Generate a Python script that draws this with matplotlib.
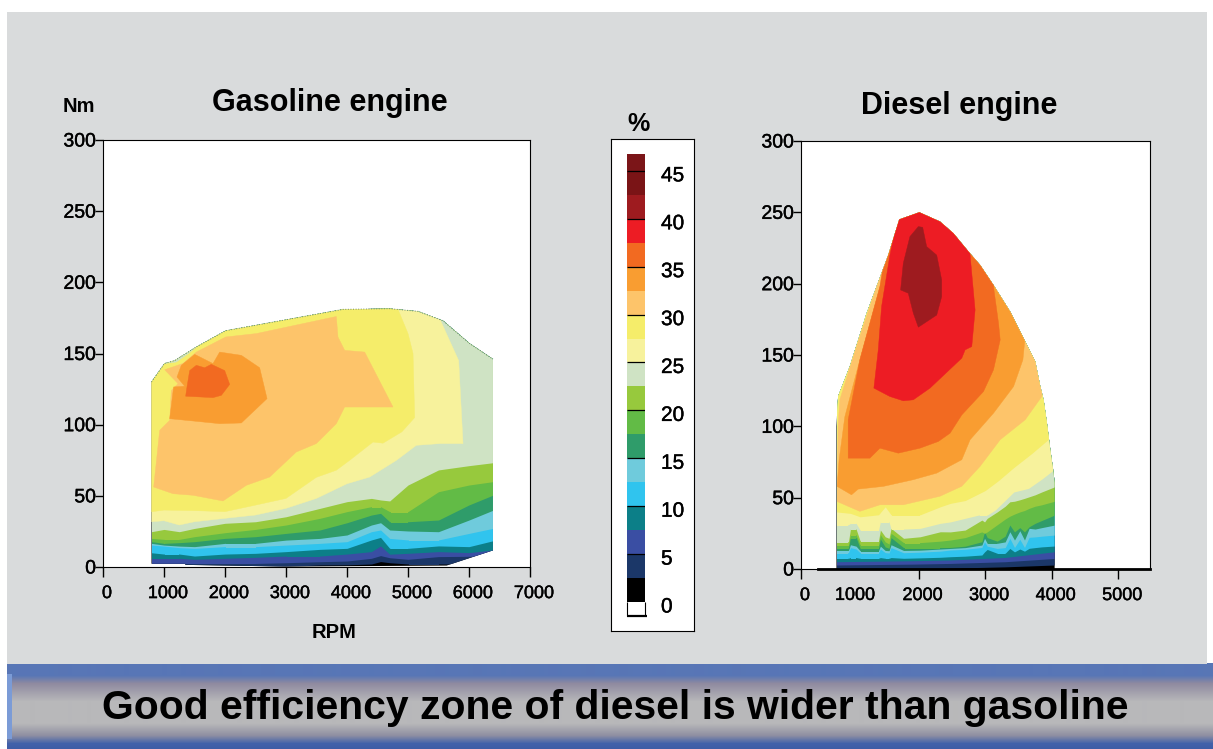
from matplotlib import pyplot as plt
from matplotlib.patches import Polygon, Rectangle
from matplotlib.transforms import ScaledTranslation
from matplotlib import patheffects
import numpy as np

plt.rcParams['font.family'] = ['Liberation Sans', 'DejaVu Sans']

W, H = 1213, 749

# Colour of each 2.5 % band, bottom to top
band_colors = ['#000000', '#1b3768', '#3a4ea3', '#0c7f88', '#30c4ee', '#6fcbdc',
               '#2f9c6a', '#62bb46', '#97c93d', '#cfe3c4', '#f7f29c', '#f5ed6a',
               '#fdc46a', '#f99d31', '#f26a21', '#ed1c24', '#9e1b1f', '#7a1416', '#7b1518']
band_edges = [0, 2.5, 5, 7.5, 10, 12.5, 15, 17.5, 20, 22.5, 25, 27.5, 30, 32.5, 35,
              37.5, 40, 42.5, 45, 46.76]
legend_ticks = [0, 5, 10, 15, 20, 25, 30, 35, 40, 45]

# Gasoline engine, outline of the map (rpm, Nm)
gas_outline = [(795, 2.3), (795, 130), (1010, 143), (1175, 145), (1530, 154.6), (2010, 166),
               (3934, 181), (4700, 181.5), (5164, 179.6), (5574, 173), (6010, 157), (6393, 146),
               (6393, 11.7), (5633, 1), (3000, 0.3), (1350, 1.5), (1350, 2.3)]

# Gasoline engine, lower contours on shared rpm columns
gas_rpm = [795, 1000, 1250, 1500, 2000, 2500, 3000, 3557, 4000, 4400, 4550, 4700, 5000, 5500, 6000, 6400]
gas_black_top = [0, 0, 0, 0, 0, 0, 0.5, 1.4, 1.5, 2.1, 3.8, 3, 2.1, 2.1, 2, 2]
gas_navy_top = [2.5, 2.5, 2.5, 2.5, 2.5, 2.5, 3, 3.7, 4.2, 6.1, 8, 6.5, 5.4, 7.3, 7.5, 8]
gas_blue_top = [6.1, 6.1, 6.1, 5.4, 6.1, 6.8, 7.7, 7.7, 9.1, 10.8, 14.8, 9, 9.6, 10.8, 10.1, 12]
gas_teal_top = [10, 9.1, 9.1, 7.7, 9.1, 9.6, 10.8, 12.4, 13.1, 19, 20.8, 13.1, 13.1, 14.8, 14.3, 18.5]
gas_cyan_top = [15.4, 14.7, 13.6, 13.1, 14.3, 14.3, 15.4, 16.6, 17.8, 24.8, 26, 20.1, 19, 19, 23.6, 27.2]
gas_ltblue_top = [16.6, 15.4, 14.7, 14.3, 16.6, 16.6, 18.9, 20.1, 22.5, 29.5, 31.1, 26, 25.3, 24.8, 33, 40]
gas_dkgreen_top = [17.8, 16.6, 17.1, 17.8, 20.1, 21.3, 23.6, 26, 31.1, 36.5, 37.7, 31.8, 31.8, 33, 43.6, 50.6]
gas_green_top = [20.1, 19.4, 19.4, 21.3, 24.1, 26.4, 29.5, 34.2, 38.9, 42.4, 42.4, 38.9, 38.9, 52.9, 57.6, 60]
gas_olive_top = [24.8, 26.4, 24.8, 27.1, 30.7, 31.8, 35.3, 41.2, 45.9, 48.2, 47.1, 46.4, 57.6, 68.2, 71.2, 73.3]

# Gasoline engine, upper regions
gas_paleyellow = [(795, 31.8), (1000, 32.5), (1250, 29.5), (1500, 31.8), (2000, 34.2), (2500, 36.5),
                  (3000, 41.2), (3500, 48.2), (4000, 58.5), (4372, 63.2), (4809, 74.9), (5137, 85.5),
                  (5519, 86.7), (5902, 86.7), (5831, 145), (5519, 174.5), (5300, 300), (500, 300), (500, 31.8)]
gas_yellow = [(795, 38.8), (1000, 40), (1500, 39.6), (2000, 38.9), (2500, 43.5), (3000, 48.2),
              (3497, 63), (3825, 68), (4044, 75), (4426, 87.8), (4590, 87), (4900, 95), (5109, 105),
              (5082, 150), (5000, 164), (4836, 181), (4800, 300), (500, 300), (500, 38.8)]
gas_ltorange = [(831, 56.2), (1148, 51.5), (1475, 50.4), (1967, 46.4), (2350, 57.4), (2732, 63.2),
                (3169, 80.8), (3497, 86.7), (3825, 100.7), (3962, 112.4), (4754, 112.4), (4290, 151),
                (3962, 152.2), (3852, 161.6), (3825, 176), (2514, 164), (2011, 161.6), (1530, 151),
                (1311, 143), (1011, 138.6), (1230, 128.8), (1120, 124), (1093, 103), (929, 96)]
gas_corner = [(1010, 143), (1175, 145), (1530, 154.6), (1400, 150), (1200, 144)]
gas_orange = [(1093, 104.2), (1158, 126.5), (1339, 127), (1213, 133.5), (1284, 141.7), (1503, 149.4),
              (1803, 142.9), (1913, 151), (2268, 148.7), (2568, 140), (2689, 118.3), (2268, 101.2),
              (1913, 100.7), (1475, 102.6)]
gas_dkorange = [(1355, 120), (1377, 126.5), (1421, 138), (1530, 141.7), (1667, 140), (1776, 142.4),
                (1995, 138), (2077, 128.3), (1940, 120.6), (1803, 119)]

# Diesel engine, outline of the map
diesel_outline = [(765, 0), (765, 100), (790, 121), (966, 142), (1217, 179), (1543, 220), (1709, 245),
                  (2010, 250), (2321, 243.5), (2522, 235.3), (2748, 222.5), (2924, 213), (3124, 199),
                  (3375, 180.4), (3601, 159.4), (3752, 145.4), (3827, 128), (3877, 118.6), (3928, 102),
                  (3978, 83.6), (4028, 67), (4043, 60.2), (4043, 0)]

# Diesel engine, lower contours
diesel_base_rpm = [765, 1900, 2476, 3300, 4043]
diesel_black_top = [-1, -0.5, 0.6, 1.5, 2.8]
diesel_navy_top = [2.8, 3.4, 3.9, 5.1, 7.4]
diesel_blue_top = [5.1, 5.8, 6.3, 8.1, 12.1]
diesel_rpm = [765, 945, 975, 1060, 1120, 1397, 1425, 1497, 1555, 1585, 1773, 2024, 2325, 2476, 2700,
              2950, 2990, 3030, 3180, 3300, 3370, 3440, 3520, 3590, 3660, 3750, 3850, 4043]
diesel_teal_top = [7.5, 7.5, 8, 8, 7.5, 7.5, 8, 7.5, 7.5, 8, 7.5, 7.8, 8.2, 8.6, 9,
                   9.8, 12, 13.7, 11, 11, 14.4, 12, 14, 12.5, 14.5, 15, 15.5, 16.1]
diesel_cyan_top = [11.4, 11.4, 15, 14, 11.4, 11.4, 14, 11.5, 11.2, 15, 11.4, 11.8, 12.5, 13.3, 13.8,
                   15.1, 19.1, 16, 14.4, 15, 21.5, 15.1, 20.8, 15.1, 22.2, 22.5, 23, 23.8]
diesel_ltblue_top = [13, 13, 17, 16, 12.8, 12.8, 16, 13, 12.8, 17, 13, 13.2, 14, 14.4, 15,
                     16.8, 21.5, 18, 18, 19, 26.1, 20.3, 26.8, 20.3, 28.5, 28, 29, 30.8]
diesel_dkgreen_top = [14.5, 14.5, 22, 22, 14.5, 14.5, 21, 15.5, 14.5, 22, 15, 15, 15, 15.1, 16,
                      19.1, 26.1, 22, 19.5, 23, 30.8, 26, 29, 26, 29.6, 32, 34, 37.8]
diesel_green_top = [16.5, 16.5, 24, 24, 17, 17, 24, 19, 17.5, 25, 18.5, 18.5, 19.5, 20.3, 22,
                    26, 25, 26, 31, 35, 37, 38.5, 40, 41, 42.5, 44, 45, 47.5]
diesel_olive_top = [19.1, 19.1, 28, 28, 19.8, 19.8, 27.3, 22.6, 21.5, 28.5, 21.5, 22.6, 26.1, 26, 27.3,
                    34.3, 33, 35.5, 40, 44, 47.1, 47.5, 48.5, 49.5, 50.6, 52, 54, 57.6]
diesel_palegreen_rpm = [765, 945, 975, 1060, 1120, 1397, 1425, 1497, 1555, 1585, 1773, 2024, 2325, 2476,
                        2900, 3030, 3150, 3430, 3650, 3850, 4043]
diesel_palegreen_top = [31, 31, 32, 32, 27.3, 27.3, 33, 33, 33, 28, 28, 28.5, 32, 33,
                        37.8, 37.8, 41.3, 54, 56.5, 63, 70]
diesel_paleyellow_rpm = [765, 975, 1120, 1397, 1497, 1585, 1773, 2024, 2325, 2476, 2700, 3000, 3200, 3426,
                         3700, 3953, 4043]
diesel_paleyellow_top = [40, 39, 36.6, 38, 43.6, 38, 38, 38, 43.6, 46, 48, 55, 62, 71, 81, 91, 98]

# Diesel engine, upper regions
diesel_ltorange = [(775, 47.3), (1116, 40.4), (1418, 45), (1769, 45), (2321, 51), (2648, 58), (2924, 72),
                   (3225, 90.6), (3601, 104.6), (3852, 121), (3950, 160), (3800, 300), (1468, 300),
                   (1468, 212), (1066, 156), (815, 118.6), (790, 100)]
diesel_orange = [(775, 57.9), (991, 52), (1091, 56), (1468, 57.9), (1920, 62.6), (2271, 67.2), (2648, 76.6),
                 (2773, 90.6), (3124, 109.2), (3426, 127.9), (3566, 146.6), (3591, 158.3), (3700, 300),
                 (1543, 300), (1543, 220), (1418, 198), (1116, 146.6), (891, 106.8), (805, 76.6)]
diesel_dkorange = [(941, 77.7), (1267, 77.7), (1418, 84.7), (1694, 81.2), (2020, 84.7), (2296, 89.4),
                   (2472, 95.2), (2648, 108), (2974, 124.4), (3124, 139.6), (3225, 160.6), (3200, 172.3),
                   (3124, 198), (3426, 212), (2748, 300), (1543, 300), (1543, 235), (1418, 198),
                   (1116, 146.6), (941, 104.6)]
diesel_red = [(1327, 126.8), (1568, 120.9), (1769, 117.9), (1920, 118.6), (2171, 126.8), (2648, 147.8),
              (2698, 153.6), (2798, 155.9), (2848, 181.6), (2773, 220), (2748, 230.6), (2321, 251.6),
              (2010, 256), (1709, 251.6), (1568, 220), (1443, 184), (1393, 153.6)]
diesel_dkred = [(1995, 240), (2060, 239.5), (2120, 226), (2271, 220), (2346, 202.6), (2346, 191), (2271, 178),
                (1995, 169.5), (1920, 179.3), (1844, 193.3), (1729, 195.6), (1769, 214.3), (1869, 233)]

torque_ticks = [0, 50, 100, 150, 200, 250, 300]
gas_ticks = [0, 1000, 2000, 3000, 4000, 5000, 6000, 7000]
diesel_ticks = [232, 2000, 3000, 4000, 5000]
diesel_tick_labels = ['0', '2000', '3000', '4000', '5000']

HEAVY = [patheffects.withStroke(linewidth=0.3, foreground='black')]


def axes_at(fig, left, right, top, bottom):
    return fig.add_axes([left / W, 1 - bottom / H, (right - left) / W, (bottom - top) / H])


def text_at(fig, x, y, s, **kw):
    fig.text(x / W, 1 - y / H, s, ha='center', va='center', color='black', **kw)


def setup_axes(ax, ticks, labels, xlim):
    ax.set_xlim(*xlim)
    ax.set_ylim(0, 300)
    ax.set_xticks(ticks)
    ax.set_xticklabels(labels)
    ax.set_yticks(torque_ticks)
    ax.tick_params(axis='x', length=7, width=1, labelsize=13, pad=6)
    ax.tick_params(axis='y', length=6, width=1, labelsize=14, pad=-1)
    for lab in ax.get_xticklabels():
        lab.set_transform(lab.get_transform() + ScaledTranslation(4 / 100, 0, ax.figure.dpi_scale_trans))
    for lab in ax.get_xticklabels() + ax.get_yticklabels():
        lab.set_path_effects(HEAVY)


def paint_above(ax, rpm, top, color, clip):
    # everything above the contour takes the colour, the outline cuts it off
    art = ax.fill_between(rpm, top, 320, color=color, lw=0)
    art.set_clip_path(clip)


def paint_region(ax, pts, color, clip):
    art = ax.add_patch(Polygon(pts, closed=True, facecolor=color, edgecolor=color, lw=0.3))
    art.set_clip_path(clip)


def outline_patch(ax, pts):
    patch = Polygon(pts, closed=True, facecolor=band_colors[0], edgecolor='none')
    ax.add_patch(patch)
    return patch


def main():
    fig = plt.figure(figsize=(W / 100, H / 100), dpi=100, facecolor='white')

    # Panel and banner
    bg = fig.add_axes([0, 0, 1, 1], zorder=-1)
    bg.add_patch(Rectangle((7, 12), 1200, 652, facecolor='#d9dbdc', edgecolor='none'))
    stops_y = [0, 12, 20, 38, 60, 72, 80, 86]
    stops_c = np.array([[88, 118, 182], [88, 118, 182], [143, 138, 160], [184, 184, 186],
                        [184, 184, 186], [143, 143, 162], [66, 98, 170], [62, 92, 165]]) / 255
    yy = np.arange(86)
    grad = np.stack([np.interp(yy, stops_y, stops_c[:, i]) for i in range(3)], axis=1)[:, None, :]
    bg.imshow(grad, extent=(7, W, 749, 663), aspect='auto', interpolation='bilinear')
    bg.add_patch(Rectangle((7, 674), 5, 65, facecolor='#7b9bd6', edgecolor='none'))
    bg.set_xlim(0, W)
    bg.set_ylim(H, 0)
    bg.axis('off')

    # Gasoline engine
    ax1 = axes_at(fig, 103, 530, 140, 567)
    setup_axes(ax1, gas_ticks, [str(t) for t in gas_ticks], (0, 7000))
    clip = outline_patch(ax1, gas_outline)
    gas_curves = [gas_black_top, gas_navy_top, gas_blue_top, gas_teal_top, gas_cyan_top,
                  gas_ltblue_top, gas_dkgreen_top, gas_green_top, gas_olive_top]
    for top, color in zip(gas_curves, band_colors[1:10]):
        paint_above(ax1, gas_rpm, top, color, clip)
    paint_region(ax1, gas_paleyellow, band_colors[10], clip)
    paint_region(ax1, gas_yellow, band_colors[11], clip)
    paint_region(ax1, gas_ltorange, band_colors[12], clip)
    paint_region(ax1, gas_corner, band_colors[9], clip)
    paint_region(ax1, gas_orange, band_colors[13], clip)
    paint_region(ax1, gas_dkorange, band_colors[14], clip)
    edge = np.array(gas_outline[1:12])
    ax1.plot(edge[:, 0], edge[:, 1], color='#6f8f6f', lw=0.7, ls=':')

    # Legend
    box = axes_at(fig, 611, 694, 139, 631)
    box.set_xticks([])
    box.set_yticks([])
    ax3 = axes_at(fig, 627, 645, 154, 616)
    ax3.set_xlim(0, 1)
    ax3.set_ylim(-1.46, 46.76)
    ax3.axis('off')
    for i, color in enumerate(band_colors):
        ax3.bar(0.5, band_edges[i + 1] - band_edges[i], bottom=band_edges[i], width=1, color=color)
    ax3.hlines(legend_ticks[1:], 0, 1, color='black', lw=0.9)
    ax3.hlines(-1.46, -0.02, 1.1, color='black', lw=1.6, clip_on=False)
    ax3.vlines([0, 1], -1.46, 0, color='black', lw=0.8, clip_on=False)
    for val in legend_ticks:
        ann = ax3.annotate(str(val), (1, val), xytext=(16, -5), textcoords='offset pixels',
                           fontsize=15, va='center', ha='left', annotation_clip=False)
        ann.set_path_effects(HEAVY)

    # Diesel engine
    ax2 = axes_at(fig, 801, 1150, 141, 569)
    setup_axes(ax2, diesel_ticks, diesel_tick_labels, (232, 5476))
    lab = ax2.text(1045, -18.5, '1000', fontsize=13, ha='center', va='center', clip_on=False)
    lab.set_path_effects(HEAVY)
    clip = outline_patch(ax2, diesel_outline)
    paint_above(ax2, diesel_base_rpm, diesel_black_top, band_colors[1], clip)
    paint_above(ax2, diesel_base_rpm, diesel_navy_top, band_colors[2], clip)
    paint_above(ax2, diesel_base_rpm, diesel_blue_top, band_colors[3], clip)
    diesel_curves = [diesel_teal_top, diesel_cyan_top, diesel_ltblue_top, diesel_dkgreen_top,
                     diesel_green_top, diesel_olive_top]
    for top, color in zip(diesel_curves, band_colors[4:10]):
        paint_above(ax2, diesel_rpm, top, color, clip)
    paint_above(ax2, diesel_palegreen_rpm, diesel_palegreen_top, band_colors[10], clip)
    paint_above(ax2, diesel_paleyellow_rpm, diesel_paleyellow_top, band_colors[11], clip)
    paint_region(ax2, diesel_ltorange, band_colors[12], clip)
    paint_region(ax2, diesel_orange, band_colors[13], clip)
    paint_region(ax2, diesel_dkorange, band_colors[14], clip)
    paint_region(ax2, diesel_red, band_colors[15], clip)
    paint_region(ax2, diesel_dkred, band_colors[16], clip)
    ax2.plot([488, 5476], [0, 0], color='black', lw=2, clip_on=False, zorder=5)

    # Titles and labels
    text_at(fig, 330, 103, 'Gasoline engine', fontsize=22, fontweight='bold')
    text_at(fig, 959, 106, 'Diesel engine', fontsize=22, fontweight='bold')
    text_at(fig, 79, 107, 'Nm', fontsize=14.5, fontweight='bold')
    text_at(fig, 334, 632, 'RPM', fontsize=14.5, fontweight='bold')
    text_at(fig, 639, 124, '%', fontsize=18, fontweight='bold')
    text_at(fig, 615, 708, 'Good efficiency zone of diesel is wider than gasoline',
            fontsize=29.4, fontweight='bold')

    fig.savefig('out.png', dpi=100)


if __name__ == "__main__":
    main()
